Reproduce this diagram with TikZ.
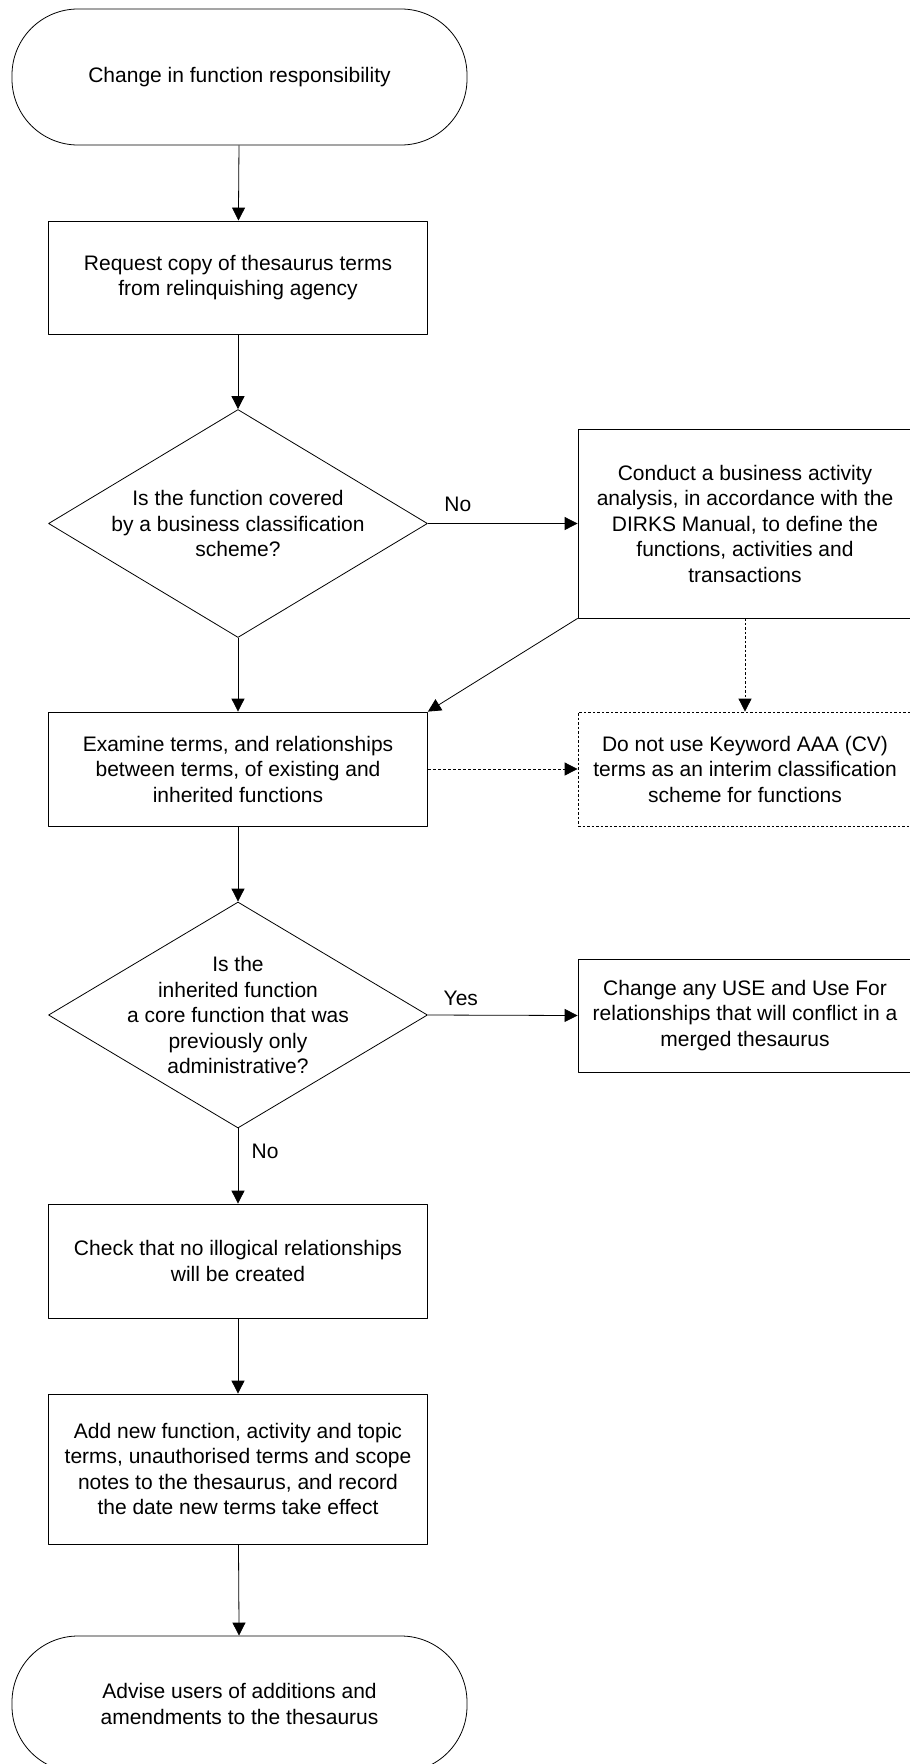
\documentclass[tikz,border=0pt]{standalone}
\usepackage{fontspec}
\setmainfont{Liberation Sans}
\usetikzlibrary{shapes.geometric,arrows.meta}

\begin{document}
\begin{tikzpicture}[x=1pt,y=-1pt,font=\fontsize{21}{25.5}\selectfont,line join=round,
	>={Triangle[length=13pt,width=13pt]},line width=0.8pt,
	terminal/.style={draw,rectangle,rounded corners=66pt,minimum width=455pt,minimum height=136pt,align=center,inner sep=0pt},
	process/.style={draw,rectangle,minimum width=379pt,minimum height=113pt,align=center,inner sep=0pt},
	sidebox/.style={draw,rectangle,minimum width=334pt,minimum height=113pt,align=center,inner sep=0pt},
	decision/.style={draw,diamond,minimum width=379pt,minimum height=228pt,inner sep=0pt},
	dotline/.style={dash pattern=on 2.5pt off 2pt}]
	\path[use as bounding box] (0,0) rectangle (910,1764);
	
	% main column
	\node[terminal] (start) at (239.5,77) {Change in function responsibility};
	\node[process] (request) at (238,277.5) {Request copy of thesaurus terms\\from relinquishing agency};
	\node[decision] (covered) at (238,523.5) {};
	\node[align=center] (covered-text) at (covered) {Is the function covered\\by a business classification\\scheme?};
	\node[process,minimum height=114pt] (examine) at (238,769) {Examine terms, and relationships\\between terms, of existing and\\inherited functions};
	\node[decision,minimum height=226pt] (inherited) at (238,1015) {};
	\node[align=center] (inherited-text) at (inherited) {Is the\\inherited function\\a core function that was\\previously only\\administrative?};
	\node[process,minimum height=114pt] (check) at (238,1261) {Check that no illogical relationships\\will be created};
	\node[process,minimum height=150pt] (add) at (238,1469) {Add new function, activity and topic\\terms, unauthorised terms and scope\\notes to the thesaurus, and record\\the date new terms take effect};
	\node[terminal] (advise) at (239.5,1704) {Advise users of additions and\\amendments to the thesaurus};
	
	% side column
	\node[sidebox,minimum height=189pt] (conduct) at (745,523.5) {Conduct a business activity\\analysis, in accordance with the\\DIRKS Manual, to define the\\functions, activities and\\transactions};
	\node[sidebox,minimum height=114pt,dotline] (donot) at (745,769) {Do not use Keyword AAA (CV)\\terms as an interim classification\\scheme for functions};
	\node[sidebox] (change) at (745,1015.5) {Change any USE and Use For\\relationships that will conflict in a\\merged thesaurus};
	
	% connectors
	\draw[->] (start) -- (request);
	\draw[->] (request) -- (covered);
	\draw[->] (covered.east) -- node[pos=0.2,above=8pt] {No} (conduct.west);
	\draw[->] (covered.south) -- (examine.north);
	\draw[->] (conduct.south west) -- (examine.north east);
	\draw[->,dotline] (conduct.south) -- (donot.north);
	\draw[->,dash pattern=on 3pt off 2pt] (examine.east) -- (donot.west);
	\draw[->] (examine) -- (inherited);
	\draw[->] (inherited.east) -- node[pos=0.22,above=6pt] {Yes} (change.west);
	\draw[->] (inherited.south) -- node[pos=0.3,right=10pt] {No} (check.north);
	\draw[->] (check) -- (add);
	\draw[->] (add) -- (advise);
\end{tikzpicture}
\end{document}
